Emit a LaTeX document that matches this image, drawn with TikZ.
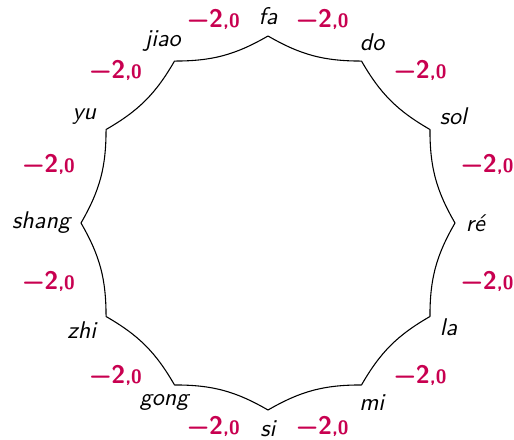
\documentclass[tikz,border=0pt]{standalone}
\definecolor{labred}{RGB}{200,0,80}
\tikzset{
 vlab/.style={font=\sffamily\itshape, inner sep=1pt},
 elab/.style={text=labred, font=\sffamily\bfseries, inner sep=1pt},
 rim/.style={line width=0.45pt, black}
}
\newcommand{\wtlab}{{\fontsize{10.5}{12}\selectfont −2}{\fontsize{8}{10}\selectfont ,0}}
\begin{document}
\begin{tikzpicture}[x=0.414pt,y=0.414pt]
\useasboundingbox (0,0) rectangle (514,439);
\coordinate (c) at (268,216);
\foreach \n/\txt/\a in {fa/fa/90, do/do/60, sol/sol/30, re/ré/0, la/la/-30, mi/mi/-60, si/si/-90, gong/gong/-120, zhi/zhi/-150, shang/shang/180, yu/yu/150, jiao/jiao/120} {
 \pgfmathtruncatemacro\b{\a+180}
 \coordinate (\n) at ([shift={(\a:187)}]c);
 \node[vlab, anchor=\b] (l\n) at ([shift={(\a:195)}]c) {\txt};
}
\foreach \i/\a in {1/75, 2/45, 3/15, 4/-15, 5/-45, 6/-75, 7/-105, 8/-135, 9/-165, 10/165, 11/135, 12/105} {
 \pgfmathtruncatemacro\b{\a+180}
 \node[elab, anchor=\b] (e\i) at ([shift={(\a:197)}]c) {\wtlab};
}
\draw[rim, bend right=15] (fa) to (do) to (sol) to (re) to (la) to (mi) to (si) to (gong) to (zhi) to (shang) to (yu) to (jiao) to (fa);
\end{tikzpicture}
\end{document}
